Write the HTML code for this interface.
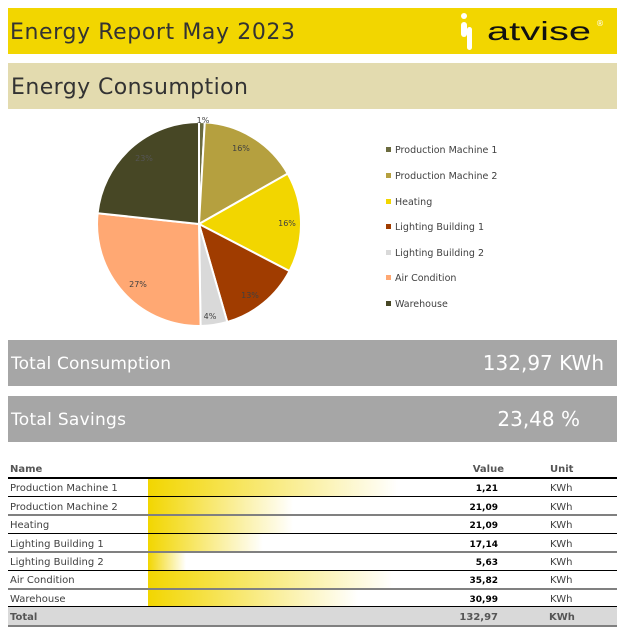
<!DOCTYPE html>
<html><head><meta charset="utf-8"><style>html,body{margin:0;padding:0;background:#fff}svg{display:block}</style></head><body>
<svg width="629" height="635" xmlns="http://www.w3.org/2000/svg" font-family="DejaVu Sans, Liberation Sans, sans-serif">
<defs>
<linearGradient id="g" x1="0" x2="1" y1="0" y2="0"><stop offset="0" stop-color="#f2d600"/><stop offset="1" stop-color="#f2d600" stop-opacity="0"/></linearGradient>
</defs>
<rect x="8" y="8" width="609" height="46" fill="#f2d600"/>
<text x="10" y="39" font-size="22" fill="#333" textLength="285">Energy Report May 2023</text>
<rect x="461" y="13" width="6" height="6" rx="3" fill="#fff"/>
<rect x="461" y="22" width="6" height="15" rx="3" fill="#fff"/>
<rect x="467" y="27" width="5" height="23" rx="2.5" fill="#fff"/>
<text x="487" y="40" font-size="26" fill="#111" font-family="Liberation Sans, sans-serif" textLength="104" lengthAdjust="spacingAndGlyphs">atvise</text>
<text x="596" y="26" font-size="8" fill="#fff">®</text>
<rect x="8" y="63" width="609" height="46" fill="#e3dbaf"/>
<text x="11" y="94" font-size="22" fill="#333" textLength="237">Energy Consumption</text>
<g stroke="#fff" stroke-width="2">
<path d="M199,224 L199,122 A102,102 0 0 1 204.8,122.2 Z" fill="#6b6b3f"/>
<path d="M199,224 L204.8,122.2 A102,102 0 0 1 287.7,173.6 Z" fill="#b5a03f"/>
<path d="M199,224 L287.7,173.6 A102,102 0 0 1 289.5,271.1 Z" fill="#f2d600"/>
<path d="M199,224 L289.5,271.1 A102,102 0 0 1 227.3,322 Z" fill="#a03c00"/>
<path d="M199,224 L227.3,322 A102,102 0 0 1 200.6,326 Z" fill="#d9d9d9"/>
<path d="M199,224 L200.6,326 A102,102 0 0 1 97.6,213.2 Z" fill="#ffa873"/>
<path d="M199,224 L97.6,213.2 A102,102 0 0 1 199,122 Z" fill="#474725"/>
</g>
<g font-size="8" fill="#404040" text-anchor="middle">
<text x="203" y="123">1%</text><text x="241" y="151">16%</text><text x="287" y="226">16%</text>
<text x="250" y="298">13%</text><text x="210" y="319">4%</text><text x="138" y="287">27%</text><text x="144" y="161" fill="#555">23%</text>
</g>
<g font-size="9.5" fill="#404040">
<rect x="386" y="147" width="5" height="5" fill="#6b6b3f"/><text x="395" y="153">Production Machine 1</text>
<rect x="386" y="173" width="5" height="5" fill="#b5a03f"/><text x="395" y="179">Production Machine 2</text>
<rect x="386" y="199" width="5" height="5" fill="#f2d600"/><text x="395" y="205">Heating</text>
<rect x="386" y="224" width="5" height="5" fill="#a03c00"/><text x="395" y="230">Lighting Building 1</text>
<rect x="386" y="250" width="5" height="5" fill="#d9d9d9"/><text x="395" y="256">Lighting Building 2</text>
<rect x="386" y="275" width="5" height="5" fill="#ffa873"/><text x="395" y="281">Air Condition</text>
<rect x="386" y="301" width="5" height="5" fill="#474725"/><text x="395" y="307">Warehouse</text>
</g>
<rect x="8" y="340" width="609" height="46" fill="#a6a6a6"/>
<text x="11" y="369" font-size="17" fill="#fff" textLength="160">Total Consumption</text>
<text x="604" y="370" font-size="20" fill="#fff" text-anchor="end">132,97 KWh</text>
<rect x="8" y="396" width="609" height="46" fill="#a6a6a6"/>
<text x="11" y="425" font-size="17" fill="#fff" textLength="115">Total Savings</text>
<text x="580" y="426" font-size="20" fill="#fff" text-anchor="end">23,48 %</text>
<g font-size="10" fill="#555" font-weight="bold">
<text x="10" y="472">Name</text><text x="504" y="472" text-anchor="end">Value</text><text x="550" y="472">Unit</text>
</g>
<rect x="148" y="479" width="250" height="17" fill="url(#g)"/>
<rect x="148" y="497" width="145" height="17" fill="url(#g)"/>
<rect x="148" y="516" width="145" height="17" fill="url(#g)"/>
<rect x="148" y="534" width="115" height="17" fill="url(#g)"/>
<rect x="148" y="553" width="38" height="17" fill="url(#g)"/>
<rect x="148" y="571" width="245" height="17" fill="url(#g)"/>
<rect x="148" y="590" width="210" height="16" fill="url(#g)"/>
<rect x="8" y="607" width="609" height="18" fill="#d9d9d9"/>
<rect x="8" y="477" width="609" height="2" fill="#000"/>
<rect x="8" y="496" width="609" height="1" fill="#000"/>
<rect x="8" y="514" width="609" height="2" fill="#808080"/>
<rect x="8" y="533" width="609" height="1" fill="#000"/>
<rect x="8" y="551" width="609" height="2" fill="#808080"/>
<rect x="8" y="570" width="609" height="1" fill="#000"/>
<rect x="8" y="588" width="609" height="2" fill="#808080"/>
<rect x="8" y="606" width="609" height="1" fill="#000"/>
<rect x="8" y="625" width="609" height="2" fill="#808080"/>
<g font-size="10" fill="#404040">
<text x="10" y="491">Production Machine 1</text><text x="10" y="510">Production Machine 2</text>
<text x="10" y="528">Heating</text><text x="10" y="547">Lighting Building 1</text>
<text x="10" y="565">Lighting Building 2</text><text x="10" y="583">Air Condition</text>
<text x="10" y="602">Warehouse</text>
</g>
<g font-size="9" fill="#000" font-weight="bold" text-anchor="end">
<text x="498" y="491">1,21</text><text x="498" y="510">21,09</text><text x="498" y="528">21,09</text>
<text x="498" y="547">17,14</text><text x="498" y="565">5,63</text><text x="498" y="583">35,82</text><text x="498" y="602">30,99</text>
</g>
<g font-size="10" fill="#404040">
<text x="550" y="491">KWh</text><text x="550" y="510">KWh</text><text x="550" y="528">KWh</text>
<text x="550" y="547">KWh</text><text x="550" y="565">KWh</text><text x="550" y="583">KWh</text><text x="550" y="602">KWh</text>
</g>
<g font-size="10" fill="#555" font-weight="bold">
<text x="10" y="620">Total</text><text x="498" y="620" text-anchor="end">132,97</text><text x="549" y="620">KWh</text>
</g>
</svg>
</body></html>
